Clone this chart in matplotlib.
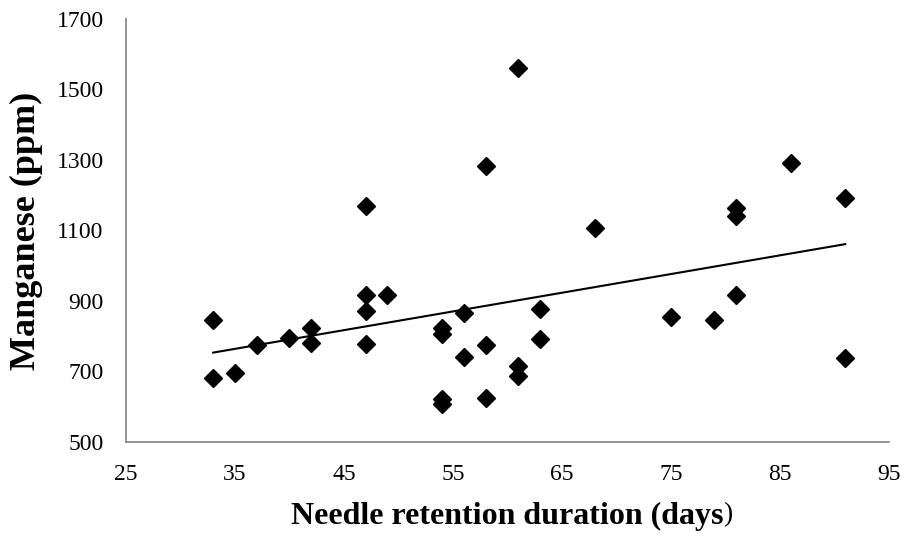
import numpy as np
import matplotlib.pyplot as plt

plt.rcParams['font.family'] = ['Liberation Serif', 'DejaVu Serif']

# Needle retention duration (days) vs manganese (ppm)
days = [33, 33, 35, 37, 40, 42, 42, 47, 47, 47, 47, 49,
        54, 54, 54, 54, 56, 56, 58, 58, 58, 61, 61, 61,
        63, 63, 68, 75, 79, 81, 81, 81, 86, 91, 91]
mn = [846, 682, 695, 775, 794, 824, 782, 1170, 918, 872, 778, 918,
      822, 806, 623, 607, 865, 742, 1283, 775, 626, 1562, 716, 687,
      876, 793, 1106, 855, 845, 1163, 1142, 917, 1291, 1193, 737]

x_ticks = [25, 35, 45, 55, 65, 75, 85, 95]
y_ticks = [500, 700, 900, 1100, 1300, 1500, 1700]

fig = plt.figure(figsize=(9.06, 5.42), dpi=100)
ax = fig.add_axes([0.139, 0.1845, 0.842, 0.7805])

ax.plot(days, mn, 'D', ms=9.4, color='black', mec='black', zorder=3)

# linear trendline
k, b = np.polyfit(days, mn, 1)
xs = np.array([min(days), max(days)])
ax.plot(xs, k * xs + b, color='black', lw=1.5)

ax.set_xlim(25, 95)
ax.set_ylim(500, 1700)
ax.set_xticks(x_ticks)
ax.set_yticks(y_ticks)
ax.tick_params(length=0, labelsize=17, pad=16)

for s in ['top', 'right']:
    ax.spines[s].set_visible(False)
for s in ['left', 'bottom']:
    ax.spines[s].set_color('#8c8c8c')
    ax.spines[s].set_linewidth(1.3)

# closing bracket is not bold in the original
ax.set_xlabel('Needle retention duration (days', fontsize=23, fontweight='bold', labelpad=12)
ax.annotate(')', xy=(1, 0.12), xycoords=ax.xaxis.label, fontsize=20,
            ha='left', va='bottom')
ax.set_ylabel('Manganese (ppm)', fontsize=26, fontweight='bold', labelpad=10)

fig.savefig('out.png', dpi=100)
